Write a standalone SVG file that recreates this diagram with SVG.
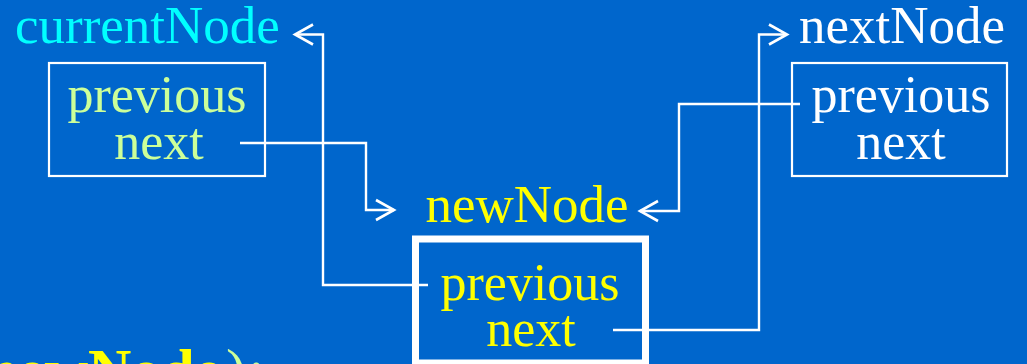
<svg xmlns="http://www.w3.org/2000/svg" width="1027" height="364" viewBox="0 0 1027 364">
  <style>
    text { font-family: "Liberation Serif", "Times New Roman", serif; font-size: 52px; }
    .label { font-size: 53px; }
    .mid { text-anchor: middle; }
    .cyan { fill: #00FFFF; }
    .green { fill: #CCFF99; }
    .yellow { fill: #FFFF00; }
    .white { fill: #FFFFFF; }
    .box { fill: none; stroke: #FFFFFF; stroke-width: 2.2; }
    .box-bold { fill: none; stroke: #FFFFFF; stroke-width: 7; }
    .link { fill: none; stroke: #FFFFFF; stroke-width: 2.4; }
  </style>
  <defs>
    <marker id="open-arrow" viewBox="-21 -13 24 26" refX="0" refY="0" markerWidth="24" markerHeight="26" markerUnits="userSpaceOnUse" orient="auto">
      <path d="M-18,-10 L0,0 L-18,10" fill="none" stroke="#FFFFFF" stroke-width="2.6" stroke-linejoin="miter"/>
    </marker>
  </defs>

  <rect width="1027" height="364" fill="#0066CC"/>

  <!-- currentNode -->
  <g id="currentNode">
    <text class="cyan label" x="15" y="43">currentNode</text>
    <rect class="box" x="49" y="63" width="216" height="113"/>
    <text class="green mid" x="157" y="112">previous</text>
    <text class="green mid" x="159" y="159">next</text>
  </g>

  <!-- nextNode -->
  <g id="nextNode">
    <text class="white label" x="799" y="43">nextNode</text>
    <rect class="box" x="792" y="63" width="215" height="113"/>
    <text class="white mid" x="901" y="112">previous</text>
    <text class="white mid" x="901" y="159">next</text>
  </g>

  <!-- newNode -->
  <g id="newNode">
    <text class="yellow mid label" x="527" y="222">newNode</text>
    <rect class="box-bold" x="415.5" y="239" width="230" height="124"/>
    <text class="yellow mid" x="530" y="300">previous</text>
    <text class="yellow mid" x="531" y="346">next</text>
  </g>

  <!-- code line at the bottom edge -->
  <g id="code">
    <text y="390" style="font-size:60px"><tspan class="yellow" x="88" text-anchor="end" font-weight="bold">new</tspan><tspan class="yellow" x="88" font-weight="bold">Node</tspan><tspan class="green" x="226">)</tspan><tspan class="green" x="248">;</tspan></text>
  </g>

  <!-- links -->
  <g id="connectors">
    <path class="link" d="M240,143 H366 V210 H394" marker-end="url(#open-arrow)"/>
    <path class="link" d="M428,285 H323 V34.5 H295" marker-end="url(#open-arrow)"/>
    <path class="link" d="M613,330 H759 V34.5 H787" marker-end="url(#open-arrow)"/>
    <path class="link" d="M800,104 H679 V211 H640" marker-end="url(#open-arrow)"/>
  </g>
</svg>
